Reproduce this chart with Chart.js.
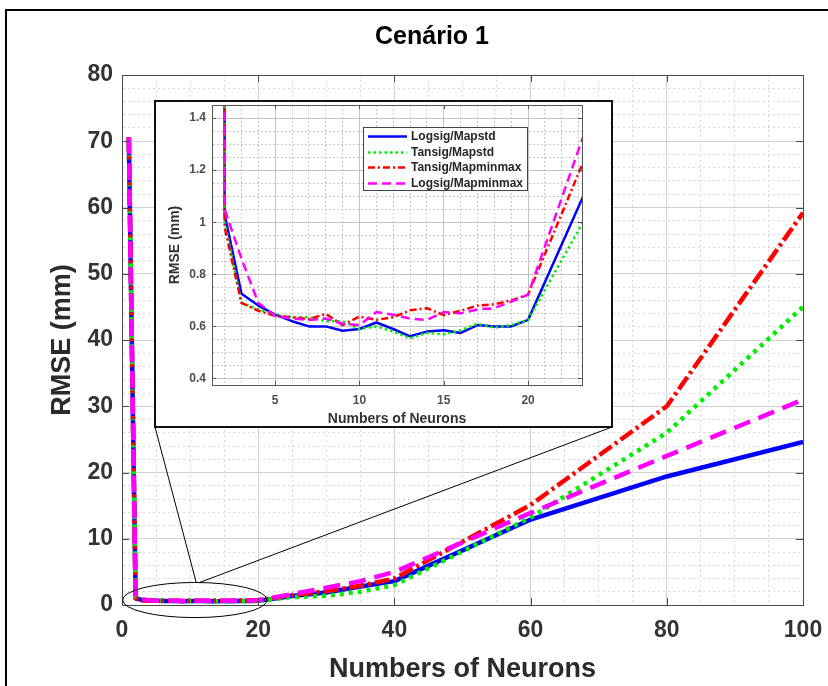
<!DOCTYPE html>
<html><head><meta charset="utf-8">
<script src="https://cdn.jsdelivr.net/npm/chart.js@4/dist/chart.umd.min.js"></script>
<style>
html,body{margin:0;padding:0;background:#fff;width:828px;height:686px;overflow:hidden;position:relative}
#frame{position:absolute;left:5px;top:9px;width:850px;height:720px;border:2px solid #000;box-sizing:border-box}
#main{position:absolute;left:0;top:0}
#insetBox{position:absolute;left:154px;top:100px;width:459px;height:328px;border:2px solid #111;box-sizing:border-box;background:#fff}
#inset{display:block}
</style></head><body>
<div id="frame"></div>
<canvas id="main" width="828" height="686"></canvas>
<div id="insetBox"><canvas id="inset" width="455" height="324"></canvas></div>
<script>
// ---- data ----
const neurons = [1,2,3,4,5,6,7,8,9,10,11,12,13,14,15,16,17,18,19,20,25,30,35,40,60,80,100];
const seriesNames = ['Logsig/Mapstd','Tansig/Mapstd','Tansig/Mapminmax','Logsig/Mapminmax'];
const logsigMapstd    = [70.6,1.03,0.725,0.68,0.645,0.62,0.60,0.60,0.583,0.59,0.615,0.59,0.562,0.58,0.585,0.575,0.605,0.60,0.60,0.625,1.35,1.9,2.8,3.6,12.9,19.4,24.6];
const tansigMapstd    = [70.6,1.0,0.69,0.665,0.645,0.635,0.635,0.62,0.62,0.59,0.60,0.58,0.555,0.575,0.57,0.585,0.61,0.595,0.605,0.625,1.2,1.4,2.0,3.0,13.2,26.0,45.0];
const tansigMapminmax = [70.6,0.98,0.69,0.66,0.64,0.635,0.628,0.648,0.605,0.638,0.625,0.635,0.662,0.67,0.643,0.66,0.68,0.685,0.70,0.722,1.5,2.1,2.9,4.0,15.1,30.0,59.2];
const logsigMapminmax = [70.6,1.05,0.86,0.69,0.64,0.63,0.625,0.63,0.61,0.605,0.655,0.645,0.63,0.625,0.655,0.65,0.665,0.67,0.695,0.722,1.65,2.6,3.6,5.0,13.9,22.5,31.0];
const seriesValues = [logsigMapstd, tansigMapstd, tansigMapminmax, logsigMapminmax];

// tick labels
const mainXTicks = [0,20,40,60,80,100];
const mainYTicks = [0,10,20,30,40,50,60,70,80];
const insetXTicks = [5,10,15,20];
const insetYTicks = [0.4,0.6,0.8,1,1.2,1.4];

// ---- styles ----
const colors = ['#0000ff','#00ee00','#ff0000','#ff00ff'];
const mainDash = [[],[4,5],[15,4,3,4],[17,9]];
const insetDash = [[],[2.5,3],[7,3,2,3],[9,5]];
const drawOrder = [4,3,2,1];

Chart.defaults.font.family = "'Liberation Sans', Arial, Helvetica, sans-serif";

function near(a, b){ return Math.abs(a - b) < 1e-6; }
function inList(v, list){ return list.some(t => near(t, v)); }

function makeDatasets(width, dashes){
  return seriesNames.map((name,i)=>({
    label: name,
    data: neurons.map((n,j)=>({x:n, y:seriesValues[i][j]})),
    borderColor: colors[i],
    backgroundColor: colors[i],
    borderWidth: width,
    borderDash: dashes[i],
    borderCapStyle: 'butt',
    borderJoinStyle: 'round',
    pointRadius: 0,
    tension: 0,
    fill: false,
    order: drawOrder[i]
  }));
}

// minor+major tick list from a step (integer arithmetic to avoid float drift)
function tickList(min, max, step, scaleF){
  const out = [];
  const a = Math.ceil(min*scaleF/(step*scaleF) - 1e-9), b = Math.floor(max*scaleF/(step*scaleF) + 1e-9);
  for (let k = a; k <= b; k++) out.push({value: Math.round(k*step*scaleF)/scaleF});
  return out;
}

const framePlugin = {
  id: 'frameBox',
  afterDraw(chart, args, o){
    const {ctx, chartArea:a} = chart;
    const xs = chart.scales.x, ys = chart.scales.y;
    ctx.save();
    ctx.strokeStyle = o.color; ctx.lineWidth = o.width; ctx.setLineDash([]);
    ctx.strokeRect(Math.round(a.left)+0.5, Math.round(a.top)+0.5, Math.round(a.right)-Math.round(a.left), Math.round(a.bottom)-Math.round(a.top));
    ctx.beginPath();
    o.xTicks.forEach(v=>{
      const p = Math.round(xs.getPixelForValue(v))+0.5;
      ctx.moveTo(p, a.bottom); ctx.lineTo(p, a.bottom - o.len);
      ctx.moveTo(p, a.top); ctx.lineTo(p, a.top + o.len);
    });
    o.yTicks.forEach(v=>{
      const p = Math.round(ys.getPixelForValue(v))+0.5;
      ctx.moveTo(a.left, p); ctx.lineTo(a.left + o.len, p);
      ctx.moveTo(a.right, p); ctx.lineTo(a.right - o.len, p);
    });
    ctx.stroke();
    ctx.restore();
  }
};

// zoom annotation (ellipse around the 1-20 neuron region, in data units)
const ellipseCenter = [10.7, 0.75];
const ellipseRadii = [10.6, 2.65];
const connectorStartX = [10.9, 11.4];

const zoomPlugin = {
  id: 'zoomAnn',
  afterDraw(chart){
    const {ctx} = chart; const xs = chart.scales.x, ys = chart.scales.y;
    const cx = xs.getPixelForValue(ellipseCenter[0]), cy = ys.getPixelForValue(ellipseCenter[1]);
    const rx = Math.abs(xs.getPixelForValue(ellipseCenter[0]+ellipseRadii[0]) - cx);
    const ry = Math.abs(ys.getPixelForValue(ellipseCenter[1]+ellipseRadii[1]) - cy);
    const topY = ys.getPixelForValue(ellipseCenter[1]+ellipseRadii[1]);
    const box = document.getElementById('insetBox');
    const bx0 = box.offsetLeft + 1, bx1 = box.offsetLeft + box.offsetWidth - 1, by = box.offsetTop + box.offsetHeight - 1;
    ctx.save();
    ctx.strokeStyle = '#000'; ctx.lineWidth = 1; ctx.setLineDash([]);
    ctx.beginPath(); ctx.ellipse(cx, cy, rx, ry, 0, 0, Math.PI*2); ctx.stroke();
    ctx.beginPath();
    ctx.moveTo(xs.getPixelForValue(connectorStartX[0]), topY); ctx.lineTo(bx0, by);
    ctx.moveTo(xs.getPixelForValue(connectorStartX[1]), topY); ctx.lineTo(bx1, by);
    ctx.stroke();
    ctx.restore();
  }
};

const legendPlugin = {
  id: 'insetLegend',
  afterDraw(chart, args, o){
    const {ctx} = chart;
    ctx.save();
    ctx.fillStyle = '#fff'; ctx.fillRect(o.left, o.top, o.width, o.height);
    ctx.strokeStyle = '#444'; ctx.lineWidth = 1; ctx.setLineDash([]);
    ctx.strokeRect(o.left+0.5, o.top+0.5, o.width, o.height);
    ctx.font = "bold 12px 'Liberation Sans', Arial, sans-serif";
    ctx.textBaseline = 'middle'; ctx.textAlign = 'left';
    chart.data.datasets.forEach((ds,i)=>{
      const y = Math.round(o.top + o.first + o.row*i) + 0.5;
      ctx.strokeStyle = ds.borderColor; ctx.lineWidth = ds.borderWidth; ctx.setLineDash(ds.borderDash || []);
      ctx.beginPath(); ctx.moveTo(o.left + 5, y); ctx.lineTo(o.left + 44, y); ctx.stroke();
      ctx.setLineDash([]);
      ctx.fillStyle = '#262626';
      ctx.fillText(ds.label, o.left + 48, y);
    });
    ctx.restore();
  }
};

function gridColor(major, minor, list){ return c => (c.tick && inList(c.tick.value, list)) ? major : minor; }
function gridDash(list, dash){ return c => (c.tick && inList(c.tick.value, list)) ? [] : dash; }

// ---- main chart ----
new Chart(document.getElementById('main'), {
  type: 'line',
  data: { datasets: makeDatasets(4.5, mainDash) },
  options: {
    responsive: false, animation: false, devicePixelRatio: 1,
    layout: { padding: { left: 36, right: 0, top: 0, bottom: 0 } },
    plugins: {
      legend: { display: false }, tooltip: { enabled: false },
      title: { display: true, text: 'Cenário 1', color: '#000', font: { size: 25, weight: 'bold' }, padding: { top: 22, bottom: 23 } },
      frameBox: { color: '#4a4a4a', width: 1, len: 7, xTicks: mainXTicks, yTicks: mainYTicks }
    },
    scales: {
      x: {
        type: 'linear', min: 0, max: 100,
        afterBuildTicks: s => { s.ticks = tickList(0, 100, 5, 1); },
        ticks: { autoSkip: false, maxRotation: 0, padding: 12, color: '#333', font: { size: 23, weight: 'bold' },
                 callback: v => inList(v, mainXTicks) ? String(v) : '' },
        grid: { drawTicks: false, color: gridColor('#d2d2d2', '#d6d6d6', mainXTicks), lineWidth: 1 },
        border: { display: true, color: '#4a4a4a', dash: gridDash(mainXTicks, [2,3]) },
        title: { display: true, text: 'Numbers of Neurons', color: '#2b2b2b', font: { size: 27, weight: 'bold' }, padding: { top: 0, bottom: 0 } },
        afterFit: s => { s.height = 81; s.paddingLeft = 0; s.paddingRight = 0; }
      },
      y: {
        type: 'linear', min: 0, max: 80,
        afterBuildTicks: s => { s.ticks = tickList(0, 80, 2, 1); },
        ticks: { autoSkip: false, padding: 9, color: '#333', font: { size: 23, weight: 'bold' },
                 callback: v => inList(v, mainYTicks) ? String(v) : '' },
        grid: { drawTicks: false, color: gridColor('#d2d2d2', '#d6d6d6', mainYTicks), lineWidth: 1 },
        border: { display: true, color: '#4a4a4a', dash: gridDash(mainYTicks, [2,3]) },
        title: { display: true, text: 'RMSE (mm)', color: '#2b2b2b', font: { size: 27, weight: 'bold' }, padding: { top: 10, bottom: 0 } },
        afterFit: s => { s.width = 86; s.paddingTop = 0; s.paddingBottom = 0; }
      },
      yR: {
        position: 'right', display: true,
        ticks: { display: false }, grid: { display: false }, border: { display: false },
        afterFit: s => { s.width = 25; s.paddingTop = 0; s.paddingBottom = 0; }
      }
    }
  },
  plugins: [framePlugin, zoomPlugin]
});

// ---- inset chart ----
new Chart(document.getElementById('inset'), {
  type: 'line',
  data: { datasets: makeDatasets(2.5, insetDash) },
  options: {
    responsive: false, animation: false, devicePixelRatio: 1,
    layout: { padding: { left: 0, right: 29, top: 3, bottom: 0 } },
    plugins: {
      legend: { display: false }, tooltip: { enabled: false }, title: { display: false },
      frameBox: { color: '#555', width: 1, len: 4, xTicks: insetXTicks, yTicks: insetYTicks },
      insetLegend: { left: 207, top: 25, width: 164, height: 63, first: 9, row: 15.5 }
    },
    scales: {
      x: {
        type: 'linear', min: 1.25, max: 23.2,
        afterBuildTicks: s => { s.ticks = tickList(1.25, 23.2, 1, 1); },
        ticks: { autoSkip: false, maxRotation: 0, padding: 8, color: '#4d4d4d', font: { size: 12, weight: 'bold' },
                 callback: v => inList(v, insetXTicks) ? String(v) : '' },
        grid: { drawTicks: false, color: gridColor('#c2c2c2', '#c8c8c8', insetXTicks), lineWidth: 1 },
        border: { display: true, color: '#555', dash: gridDash(insetXTicks, [2,2]) },
        title: { display: true, text: 'Numbers of Neurons', color: '#333', font: { size: 14, weight: 'bold', lineHeight: 1 }, padding: { top: 0, bottom: 0 } },
        afterFit: s => { s.height = 41; s.paddingLeft = 0; s.paddingRight = 0; }
      },
      y: {
        type: 'linear', min: 0.375, max: 1.45,
        afterBuildTicks: s => { s.ticks = tickList(0.375, 1.45, 0.05, 100); },
        ticks: { autoSkip: false, padding: 6, color: '#4d4d4d', font: { size: 12, weight: 'bold' },
                 callback: v => inList(v, insetYTicks) ? String(v) : '' },
        grid: { drawTicks: false, color: gridColor('#c2c2c2', '#c8c8c8', insetYTicks), lineWidth: 1 },
        border: { display: true, color: '#555', dash: gridDash(insetYTicks, [2,2]) },
        title: { display: true, text: 'RMSE (mm)', color: '#333', font: { size: 14, weight: 'bold', lineHeight: 1 }, padding: { top: 12, bottom: 0 } },
        afterFit: s => { s.width = 56; s.paddingTop = 0; s.paddingBottom = 0; }
      }
    }
  },
  plugins: [framePlugin, legendPlugin]
});
</script>
</body></html>
